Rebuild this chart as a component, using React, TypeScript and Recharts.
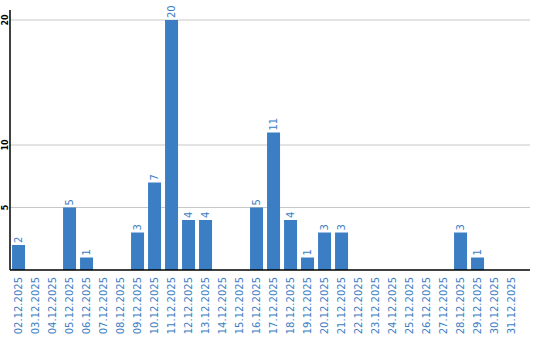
import React from "react";
import { BarChart, Bar, XAxis, YAxis, CartesianGrid, LabelList } from "recharts";

const dates = [
  "02.12.2025", "03.12.2025", "04.12.2025", "05.12.2025", "06.12.2025", "07.12.2025",
  "08.12.2025", "09.12.2025", "10.12.2025", "11.12.2025", "12.12.2025", "13.12.2025",
  "14.12.2025", "15.12.2025", "16.12.2025", "17.12.2025", "18.12.2025", "19.12.2025",
  "20.12.2025", "21.12.2025", "22.12.2025", "23.12.2025", "24.12.2025", "25.12.2025",
  "26.12.2025", "27.12.2025", "28.12.2025", "29.12.2025", "30.12.2025", "31.12.2025",
];
const counts = [2, 0, 0, 5, 1, 0, 0, 3, 7, 20, 4, 4, 0, 0, 5, 11, 4, 1, 3, 3, 0, 0, 0, 0, 0, 0, 3, 1, 0, 0];
const yTicks = [5, 10, 20];

const data = dates.map((d, i) => ({ date: d, value: counts[i] }));

const BLUE = "#3b7ec4";
const FONT = "DejaVu Sans, Verdana, sans-serif";

const XTick = (props: any) => {
  const { x, y, payload } = props;
  const ty = y - 1;
  return (
    <text
      x={x}
      y={ty}
      transform={`rotate(-90, ${x}, ${ty})`}
      textAnchor="end"
      dy="0.35em"
      fill={BLUE}
      fontSize={10}
      fontFamily={FONT}
    >
      {payload.value}
    </text>
  );
};

const YTick = (props: any) => {
  const { y, payload } = props;
  const x = 5;
  return (
    <text
      x={x}
      y={y}
      transform={`rotate(-90, ${x}, ${y})`}
      textAnchor="middle"
      dy="0.35em"
      fill="#000"
      fontSize={8}
      fontWeight="bold"
      fontFamily={FONT}
    >
      {payload.value}
    </text>
  );
};

const BarLabel = (props: any) => {
  const { x, y, width, value } = props;
  if (!value) return null;
  const cx = x + width / 2;
  const ty = y - 2;
  return (
    <text
      x={cx}
      y={ty}
      transform={`rotate(-90, ${cx}, ${ty})`}
      textAnchor="start"
      dy="0.35em"
      fill={BLUE}
      fontSize={10}
      fontFamily={FONT}
    >
      {value}
    </text>
  );
};

export default function App() {
  return (
    <div style={{ position: "absolute", left: 0, top: 0, background: "#fff" }}>
      <BarChart
        width={540}
        height={340}
        data={data}
        margin={{ top: 10, right: 10, left: 0, bottom: 0 }}
        barCategoryGap="12%"
      >
        <CartesianGrid vertical={false} stroke="#c8c8c8" horizontalValues={yTicks} />
        <XAxis
          dataKey="date"
          interval={0}
          height={70}
          tick={<XTick />}
          tickLine={false}
          axisLine={{ stroke: "#000", strokeWidth: 1.5 }}
          padding={{ left: 0, right: 10 }}
        />
        <YAxis
          width={10}
          type="number"
          domain={[0, 20.8]}
          ticks={yTicks}
          interval={0}
          tick={<YTick />}
          tickLine={false}
          axisLine={{ stroke: "#000", strokeWidth: 1.5 }}
          allowDataOverflow
        />
        <Bar dataKey="value" fill={BLUE} isAnimationActive={false}>
          <LabelList dataKey="value" content={<BarLabel />} />
        </Bar>
      </BarChart>
    </div>
  );
}
